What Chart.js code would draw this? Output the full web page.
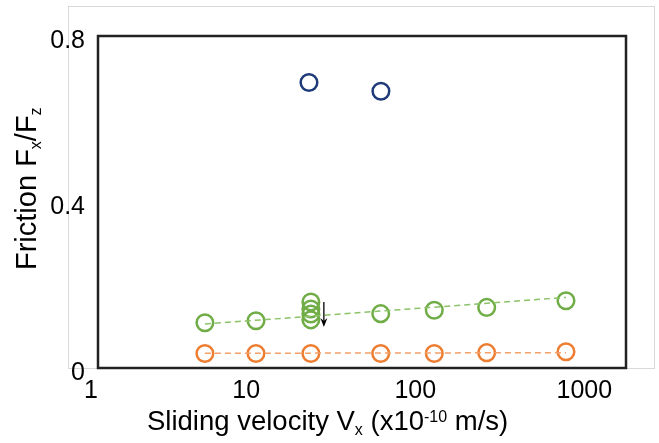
<!DOCTYPE html>
<html><head><meta charset="utf-8">
<script src="https://cdn.jsdelivr.net/npm/chart.js@4"></script>
<style>html,body{margin:0;padding:0;background:#fff}#wrap{width:659px;height:443px;position:relative}</style>
</head><body><div id="wrap"><canvas id="c" width="659" height="443"></canvas></div>
<script>
const xTickValues = [1, 10, 100, 1000];
const xTickLabels = ['1', '10  ', '100  ', '1000  '];
const yTickValues = [0, 0.4, 0.8];
const yTickLabels = ['0', '0.4', '0.8'];

const blueVelocity = [15.8, 40.5];
const blueFriction = [0.688, 0.667];

const greenVelocity = [4.05, 7.9, 16.2, 16.2, 16.2, 16.2, 40.4, 81.4, 161.6, 456];
const greenFriction = [0.109, 0.114, 0.159, 0.142, 0.130, 0.116, 0.131, 0.139, 0.146, 0.162];

const orangeVelocity = [4.05, 7.9, 16.2, 40.4, 81.4, 161.6, 456];
const orangeFriction = [0.035, 0.035, 0.035, 0.035, 0.035, 0.037, 0.039];

const greenTrendVelocity = [4.05, 456];
const greenTrendFriction = [0.106, 0.170];
const orangeTrendVelocity = [4.05, 456];
const orangeTrendFriction = [0.0354, 0.0369];

const arrowVelocity = [19.2, 19.2];
const arrowFriction = [0.159, 0.099];

const FONT = '"Liberation Sans", Arial, sans-serif';
const pts = (xs, ys) => xs.map((x, i) => ({x, y: ys[i]}));

function drawRich(ctx, parts, x, y, size, small) {
  let cx = x;
  for (const [t, k] of parts) {
    const s = k ? small : size;
    ctx.font = s + 'px ' + FONT;
    const dy = k === 'sub' ? 5 : (k === 'sup' ? -8 : 0);
    ctx.fillText(t, cx, y + dy);
    cx += ctx.measureText(t).width;
  }
}

const decor = {
  id: 'decor',
  beforeDraw(chart) {
    const {ctx, chartArea: ca} = chart;
    ctx.save();
    ctx.strokeStyle = '#d9d9d9';
    ctx.lineWidth = 1;
    ctx.strokeRect(ca.left - 29.5, ca.top - 29.5, ca.right - ca.left + 58, ca.bottom - ca.top + 30);
    ctx.restore();
  },
  beforeDatasetsDraw(chart) {
    const {ctx, chartArea: ca} = chart;
    ctx.save();
    ctx.strokeStyle = '#222';
    ctx.lineWidth = 2.5;
    ctx.strokeRect(ca.left, ca.top, ca.right - ca.left, ca.bottom - ca.top);
    ctx.restore();
  },
  afterDatasetsDraw(chart) {
    const {ctx, scales} = chart;
    const x = scales.x.getPixelForValue(arrowVelocity[0]);
    const y1 = scales.y.getPixelForValue(arrowFriction[0]);
    const y2 = scales.y.getPixelForValue(arrowFriction[1]);
    ctx.save();
    ctx.strokeStyle = '#000';
    ctx.fillStyle = '#000';
    ctx.lineWidth = 1.3;
    ctx.beginPath();
    ctx.moveTo(x, y1);
    ctx.lineTo(x, y2 - 4);
    ctx.stroke();
    ctx.beginPath();
    ctx.moveTo(x, y2);
    ctx.lineTo(x - 3.5, y2 - 9);
    ctx.lineTo(x, y2 - 6);
    ctx.lineTo(x + 3.5, y2 - 9);
    ctx.closePath();
    ctx.fill();
    ctx.restore();
  },
  afterDraw(chart) {
    const {ctx, chartArea: ca} = chart;
    ctx.save();
    ctx.fillStyle = '#000';
    ctx.textAlign = 'left';
    ctx.textBaseline = 'alphabetic';
    drawRich(ctx, [['Sliding velocity V'], ['x', 'sub'], [' (x10'], ['-10', 'sup'], [' m/s)']],
      ca.left + 49, ca.bottom + 62, 27.5, 16);
    ctx.translate(ca.left - 62, ca.bottom - 98);
    ctx.rotate(-Math.PI / 2);
    drawRich(ctx, [['Friction F'], ['x', 'sub'], ['/F'], ['z', 'sub']], 0, 0, 29, 16);
    ctx.restore();
  }
};

const circle = (color) => ({
  showLine: false, pointStyle: 'circle', pointRadius: 8.3, pointHoverRadius: 8.3,
  pointBorderWidth: 2.5, borderColor: color, pointBorderColor: color,
  backgroundColor: 'rgba(0,0,0,0)', pointBackgroundColor: 'rgba(0,0,0,0)'
});
const trend = (color) => ({
  showLine: true, pointRadius: 0, borderColor: color, borderWidth: 1.5,
  borderDash: [6, 4], backgroundColor: color, fill: false
});

new Chart(document.getElementById('c'), {
  type: 'scatter',
  data: {
    datasets: [
      Object.assign({label: 'green trend', data: pts(greenTrendVelocity, greenTrendFriction)}, trend('#8cc268')),
      Object.assign({label: 'orange trend', data: pts(orangeTrendVelocity, orangeTrendFriction)}, trend('#f3a069')),
      Object.assign({label: 'blue', data: pts(blueVelocity, blueFriction)}, circle('#1f3a78')),
      Object.assign({label: 'green', data: pts(greenVelocity, greenFriction)}, circle('#70ad47')),
      Object.assign({label: 'orange', data: pts(orangeVelocity, orangeFriction)}, circle('#ed7d31'))
    ]
  },
  options: {
    responsive: false,
    animation: false,
    devicePixelRatio: 1,
    layout: {padding: {left: 0, top: 36, right: 33, bottom: 0}},
    plugins: {legend: {display: false}, title: {display: false}, tooltip: {enabled: false}},
    scales: {
      x: {
        type: 'logarithmic', min: 1, max: 1000,
        afterBuildTicks: s => { s.ticks = xTickValues.map(v => ({value: v})); },
        afterFit: s => { s.height = 75; },
        grid: {display: false, drawTicks: false},
        border: {display: false},
        ticks: {
          autoSkip: false, maxRotation: 0, minRotation: 0, align: 'end', padding: 8,
          color: '#000', font: {family: FONT, size: 25},
          callback: (v) => { const i = xTickValues.indexOf(v); return i >= 0 ? xTickLabels[i] : ''; }
        }
      },
      y: {
        type: 'linear', min: 0, max: 0.8,
        afterBuildTicks: s => { s.ticks = yTickValues.map(v => ({value: v})); },
        afterFit: s => { s.width = 98; },
        grid: {display: false, drawTicks: false},
        border: {display: false},
        ticks: {
          padding: 13, labelOffset: 5, color: '#000', font: {family: FONT, size: 25},
          callback: (v) => { const i = yTickValues.indexOf(v); return i >= 0 ? yTickLabels[i] : ''; }
        }
      }
    }
  },
  plugins: [decor]
});
</script></body></html>
